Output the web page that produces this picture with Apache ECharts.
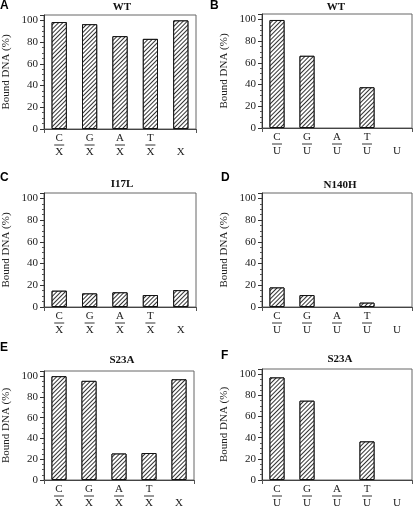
<!DOCTYPE html>
<html><head><meta charset="utf-8">
<script src="https://cdn.jsdelivr.net/npm/echarts@6/dist/echarts.min.js"></script>
<style>html,body{margin:0;padding:0;background:#fff}#c{width:416px;height:509px}</style>
</head><body><div id="c"></div>
<script>
const categoriesX = ['C/X', 'G/X', 'A/X', 'T/X', 'X'];
const categoriesU = ['C/U', 'G/U', 'A/U', 'T/U', 'U'];
const wtX = [98.5, 96.5, 85.5, 83, 100];
const wtU = [99.5, 66.5, 0, 37.5, 0];
const i17lX = [15, 12.5, 13.5, 11, 15.5];
const n140hU = [18, 11, 0, 4, 0];
const s23aX = [100, 95.5, 25.5, 26, 97];
const s23aU = [97, 75, 0, 36.5, 0];
const yTicks = [0, 20, 40, 60, 80, 100];

const panels = [
  {letter: 'A', title: 'WT',    cats: categoriesX, data: wtX,    grid: {left: 43, top: 15, width: 153, height: 114}, lx: 0,   ly: 0,   tx: 122, ty: 2},
  {letter: 'B', title: 'WT',    cats: categoriesU, data: wtU,    grid: {left: 262, top: 14, width: 150, height: 114}, lx: 210, ly: 0,   tx: 336, ty: 2},
  {letter: 'C', title: 'I17L',  cats: categoriesX, data: i17lX,  grid: {left: 43, top: 193, width: 153, height: 114}, lx: 0,   ly: 172, tx: 122, ty: 179},
  {letter: 'D', title: 'N140H', cats: categoriesU, data: n140hU, grid: {left: 262, top: 193, width: 150, height: 114}, lx: 221, ly: 172, tx: 340, ty: 180},
  {letter: 'E', title: 'S23A',  cats: categoriesX, data: s23aX,  grid: {left: 41, top: 371, width: 153, height: 114}, lx: 0,   ly: 342, tx: 122, ty: 355},
  {letter: 'F', title: 'S23A',  cats: categoriesU, data: s23aU,  grid: {left: 262, top: 369, width: 150, height: 114}, lx: 221, ly: 350, tx: 340, ty: 354}
];

const serif = 'Liberation Serif';
const grids = [], xAxes = [], yAxes = [], series = [], titles = [];
panels.forEach((p, i) => {
  grids.push(Object.assign({show: true, borderColor: '#666', borderWidth: 1, backgroundColor: 'transparent'}, p.grid));
  xAxes.push({
    type: 'category', gridIndex: i, data: p.cats,
    axisLine: {lineStyle: {color: '#444', width: 1}},
    axisTick: {show: true, length: 4, lineStyle: {color: '#555'}, interval: function (idx) { return idx === 0; }},
    axisLabel: {
      margin: 4, fontFamily: serif, fontSize: 11, color: '#222', interval: 0,
      formatter: function (v) {
        const parts = v.split('/');
        if (parts.length === 2) return '{n|' + parts[0] + '}\n{bar| }\n{d|' + parts[1] + '}';
        return '{n| }\n{nobar| }\n{d|' + parts[0] + '}';
      },
      rich: {
        n: {fontFamily: serif, fontSize: 11, color: '#222', lineHeight: 10, align: 'center'},
        bar: {width: 10, height: 1, lineHeight: 4, backgroundColor: '#333', align: 'center'},
        nobar: {width: 10, height: 1, lineHeight: 4, align: 'center'},
        d: {fontFamily: serif, fontSize: 11, color: '#222', lineHeight: 11, align: 'center'}
      }
    }
  });
  yAxes.push({
    type: 'value', gridIndex: i, min: 0, max: 105, interval: 20,
    name: 'Bound DNA (%)', nameLocation: 'middle', nameGap: 32,
    nameTextStyle: {fontFamily: serif, fontSize: 11, color: '#222'},
    axisLine: {show: true, lineStyle: {color: '#333'}},
    axisTick: {show: true, length: 4, lineStyle: {color: '#333'}},
    minorTick: {show: true, splitNumber: 4, length: 2, lineStyle: {color: '#555'}},
    splitLine: {show: false},
    axisLabel: {showMaxLabel: false, margin: 6, fontFamily: serif, fontSize: 11, color: '#222',
      formatter: function (v) { return yTicks.indexOf(v) >= 0 ? String(v) : ''; }}
  });
  series.push({
    type: 'bar', xAxisIndex: i, yAxisIndex: i, barWidth: '50%',
    data: p.data.map(v => v === 0 ? {value: v, itemStyle: {borderWidth: 0, opacity: 0}} : v),
    itemStyle: {
      color: '#fff', borderColor: '#111', borderWidth: 1,
      decal: {symbol: 'rect', symbolSize: 1, dashArrayX: [1, 0], dashArrayY: [1, 2], rotation: -Math.PI / 4, color: '#333', backgroundColor: '#fff'}
    },
    silent: true, animation: false
  });
  titles.push({text: p.letter, left: p.lx, top: p.ly, padding: 0,
    textStyle: {fontFamily: 'Liberation Sans', fontWeight: 'bold', fontSize: 12, color: '#000'}});
  titles.push({text: p.title, left: p.tx, top: p.ty, padding: 0, textAlign: 'center',
    textStyle: {fontFamily: serif, fontWeight: 'bold', fontSize: 11, color: '#111'}});
});

const chart = echarts.init(document.getElementById('c'), null, {renderer: 'canvas'});
chart.setOption({animation: false, title: titles, grid: grids, xAxis: xAxes, yAxis: yAxes, series: series});
</script></body></html>
